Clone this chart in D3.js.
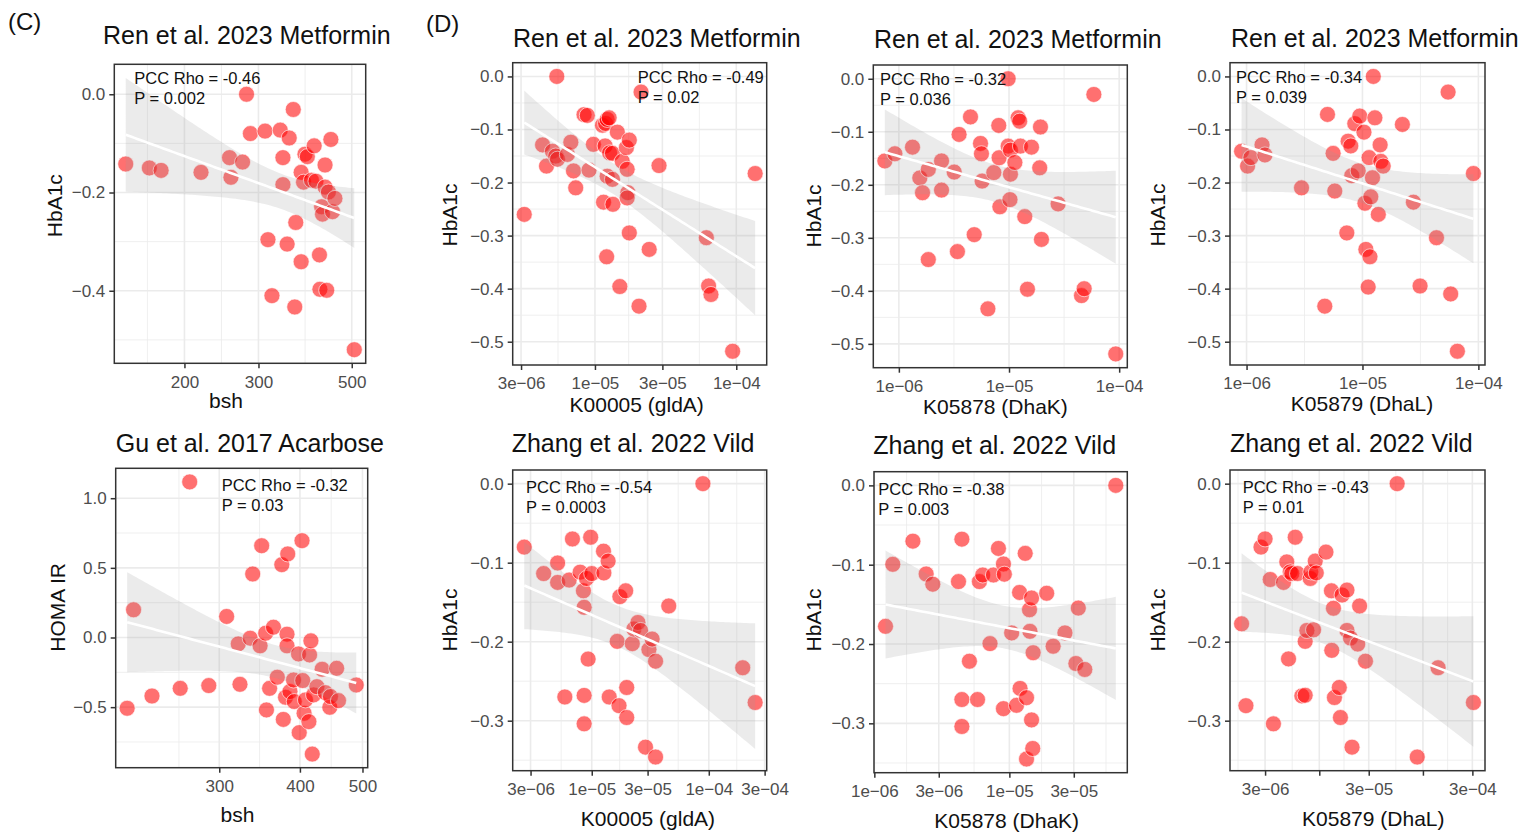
<!DOCTYPE html>
<html>
<head>
<meta charset="utf-8">
<script src="https://cdn.jsdelivr.net/npm/d3@7"></script>
<style>
  body { margin: 0; background: #fff; }
  svg { font-family: "Liberation Sans", Arial, Helvetica, sans-serif; }
</style>
</head>
<body>
<svg id="fig" width="1524" height="832"></svg>
<script>
// ---- data ----
// (C) top: Ren et al. 2023 Metformin, bsh vs HbA1c
const renBshX = [145,165,176,219,256,258,275,281,287,311,316,323,338,343,343,351,355,363,366,368,379,379,384,387,392,401,407,411,419,420,424,426,432,432,436,440,446,450,456,507];
const renBshY = [-0.142,-0.150,-0.155,-0.159,-0.129,-0.169,-0.138,0.0,-0.080,-0.075,-0.296,-0.410,-0.073,-0.129,-0.184,-0.305,-0.089,-0.031,-0.433,-0.261,-0.341,-0.159,-0.179,-0.122,-0.127,-0.175,-0.105,-0.177,-0.327,-0.397,-0.229,-0.244,-0.144,-0.189,-0.399,-0.199,-0.092,-0.239,-0.212,-0.520];

// (C) bottom: Gu et al. 2017 Acarbose, bsh vs HOMA IR
const guBshX = [216,221,236,261,270,289,308,321,323,335,338,347,349,354,355,359,364,369,375,377,380,382,382,383,386,391,392,398,399,403,404,406,408,413,414,416,418,420,425,433,438,445,446,456,459,489];
const guBshY = [-0.508,0.199,-0.420,-0.365,1.117,-0.345,0.151,-0.046,-0.336,-0.005,0.456,-0.060,0.659,0.031,-0.520,-0.365,0.074,-0.285,0.523,-0.588,-0.429,0.024,-0.060,0.600,-0.388,-0.305,-0.460,-0.118,-0.683,0.695,-0.309,-0.544,-0.448,-0.604,-0.125,-0.024,-0.837,-0.412,-0.353,-0.228,-0.396,-0.501,-0.424,-0.221,-0.453,-0.341];

// (D) Ren et al. 2023 Metformin
const renGldaX = [3.16e-6,5.37e-6,4.26e-6,4.54e-6,5.00e-6,5.28e-6,5.43e-6,6.38e-6,6.75e-6,7.05e-6,7.31e-6,8.37e-6,8.83e-6,9.08e-6,9.75e-6,1.13e-5,1.15e-5,1.18e-5,1.19e-5,1.21e-5,1.22e-5,1.22e-5,1.26e-5,1.27e-5,1.33e-5,1.34e-5,1.33e-5,1.44e-5,1.50e-5,1.56e-5,1.67e-5,1.69e-5,1.75e-5,1.71e-5,1.69e-5,1.75e-5,2.05e-5,2.12e-5,2.42e-5,2.84e-5,6.14e-5,6.37e-5,6.62e-5,9.42e-5,1.36e-4];
const renGldaY = [-0.260,0.0,-0.129,-0.169,-0.141,-0.150,-0.156,-0.147,-0.124,-0.178,-0.210,-0.072,-0.0735,-0.1765,-0.128,-0.092,-0.237,-0.131,-0.0886,-0.340,-0.188,-0.081,-0.078,-0.144,-0.145,-0.241,-0.194,-0.105,-0.396,-0.160,-0.134,-0.175,-0.120,-0.219,-0.229,-0.295,-0.433,-0.0295,-0.326,-0.168,-0.304,-0.395,-0.411,-0.518,-0.183];

const renDhakX = [7.46e-7,9.20e-7,1.33e-6,1.55e-6,1.64e-6,1.85e-6,1.85e-6,2.44e-6,2.44e-6,3.18e-6,3.40e-6,3.52e-6,4.47e-6,4.83e-6,5.51e-6,5.62e-6,5.70e-6,6.43e-6,7.28e-6,8.07e-6,8.13e-6,8.26e-6,9.82e-6,9.82e-6,1.02e-5,1.03e-5,1.03e-5,1.13e-5,1.21e-5,1.25e-5,1.27e-5,1.39e-5,1.47e-5,1.60e-5,1.90e-5,1.93e-5,1.97e-5,2.79e-5,4.55e-5,4.81e-5,5.89e-5,9.31e-5];
const renDhakY = [-0.155,-0.1415,-0.129,-0.187,-0.215,-0.171,-0.341,-0.155,-0.210,-0.176,-0.326,-0.105,-0.072,-0.294,-0.122,-0.1415,-0.193,-0.434,-0.177,-0.088,-0.149,-0.2415,0.0,-0.127,-0.228,-0.1346,-0.180,-0.158,-0.0736,-0.080,-0.127,-0.260,-0.397,-0.129,-0.168,-0.091,-0.303,-0.236,-0.409,-0.396,-0.0296,-0.519];

const renDhalX = [9.06e-7,1.02e-6,1.09e-6,1.36e-6,1.44e-6,2.98e-6,4.73e-6,4.99e-6,5.58e-6,5.77e-6,7.33e-6,7.52e-6,7.93e-6,8.09e-6,8.59e-6,9.18e-6,9.48e-6,1.03e-5,1.05e-5,1.07e-5,1.12e-5,1.14e-5,1.16e-5,1.18e-5,1.22e-5,1.24e-5,1.28e-5,1.37e-5,1.42e-5,1.44e-5,1.51e-5,2.21e-5,2.75e-5,3.14e-5,4.35e-5,5.48e-5,5.77e-5,6.59e-5,9.06e-5];
const renDhalY = [-0.141,-0.169,-0.153,-0.129,-0.148,-0.210,-0.433,-0.0716,-0.145,-0.216,-0.295,-0.122,-0.131,-0.187,-0.089,-0.178,-0.0747,-0.105,-0.239,-0.326,-0.397,-0.153,-0.340,-0.227,-0.191,0.0,-0.078,-0.260,-0.129,-0.160,-0.169,-0.0905,-0.237,-0.395,-0.304,-0.0295,-0.410,-0.518,-0.183];

// (D) Zhang et al. 2022 Vild
const zhGldaX = [2.65e-6,3.88e-6,5.11e-6,5.11e-6,5.89e-6,6.41e-6,6.84e-6,7.96e-6,8.49e-6,8.61e-6,8.61e-6,8.61e-6,9.02e-6,9.31e-6,9.79e-6,1.00e-5,1.26e-5,1.27e-5,1.38e-5,1.41e-5,1.65e-5,1.71e-5,1.74e-5,1.95e-5,1.99e-5,1.99e-5,2.22e-5,2.29e-5,2.48e-5,2.61e-5,2.88e-5,3.08e-5,3.28e-5,3.51e-5,3.51e-5,4.55e-5,8.91e-5,1.95e-4,2.49e-4];
const zhGldaY = [-0.0803,-0.1138,-0.1004,-0.125,-0.270,-0.122,-0.070,-0.112,-0.1356,-0.268,-0.304,-0.1565,-0.120,-0.222,-0.0678,-0.1138,-0.0854,-0.113,-0.098,-0.270,-0.1996,-0.281,-0.143,-0.1356,-0.258,-0.296,-0.2025,-0.184,-0.1757,-0.1858,-0.3335,-0.210,-0.1967,-0.346,-0.2247,-0.1548,0.0,-0.233,-0.277];

const zhDhakX = [1.21e-6,1.37e-6,1.93e-6,2.42e-6,2.71e-6,4.20e-6,4.45e-6,4.45e-6,4.45e-6,5.06e-6,5.81e-6,6.00e-6,6.35e-6,7.19e-6,7.62e-6,8.30e-6,9.04e-6,9.04e-6,9.18e-6,1.04e-5,1.13e-5,1.19e-5,1.20e-5,1.31e-5,1.34e-5,1.34e-5,1.41e-5,1.42e-5,1.46e-5,1.46e-5,1.49e-5,1.50e-5,1.89e-5,2.11e-5,2.58e-5,3.11e-5,3.24e-5,3.62e-5,6.14e-5];
const zhDhakY = [-0.1777,-0.0995,-0.0703,-0.1117,-0.1246,-0.1213,-0.0678,-0.270,-0.304,-0.2217,-0.270,-0.1213,-0.113,-0.1995,-0.113,-0.0795,-0.2815,-0.0991,-0.112,-0.186,-0.2773,-0.135,-0.256,-0.0857,-0.345,-0.2677,-0.1568,-0.184,-0.142,-0.2957,-0.3317,-0.211,-0.136,-0.2028,-0.186,-0.2246,-0.1547,-0.2321,0.0];

const zhDhalX = [1.78e-6,1.96e-6,2.74e-6,3.00e-6,3.36e-6,3.61e-6,4.52e-6,4.86e-6,5.05e-6,5.24e-6,5.43e-6,5.86e-6,6.17e-6,6.79e-6,7.31e-6,7.31e-6,7.59e-6,8.18e-6,8.30e-6,8.81e-6,9.14e-6,9.35e-6,1.16e-5,1.31e-5,1.32e-5,1.37e-5,1.40e-5,1.56e-5,1.60e-5,1.66e-5,1.85e-5,1.85e-5,2.00e-5,2.07e-5,2.35e-5,2.45e-5,2.79e-5,5.64e-5,8.81e-5,1.40e-4,3.07e-4];
const zhDhalY = [-0.1774,-0.281,-0.0803,-0.0699,-0.1213,-0.304,-0.125,-0.099,-0.2218,-0.1117,-0.1138,-0.0678,-0.1138,-0.2686,-0.2678,-0.1996,-0.1858,-0.120,-0.1117,-0.185,-0.098,-0.113,-0.0866,-0.1356,-0.211,-0.1577,-0.2707,-0.258,-0.296,-0.141,-0.1347,-0.1858,-0.1954,-0.3335,-0.203,-0.1548,-0.2247,0.0,-0.346,-0.233,-0.277];

// tick breaks and labels
const ticksBsh1 = [200, 300, 500];
const ticksBsh2 = [300, 400, 500];
const ticksHba6 = [0, -0.1, -0.2, -0.3, -0.4, -0.5];
const ticksHba3 = [0, -0.2, -0.4];
const ticksHba4 = [0, -0.1, -0.2, -0.3];
const ticksHoma = [-0.5, 0, 0.5, 1.0];

const titles = ["Ren et al. 2023 Metformin", "Gu et al. 2017 Acarbose", "Zhang et al. 2022 Vild"];
const stats = [
  ["-0.46", "0.002"], ["-0.49", "0.02"], ["-0.32", "0.036"], ["-0.34", "0.039"],
  ["-0.32", "0.03"], ["-0.54", "0.0003"], ["-0.38", "0.003"], ["-0.43", "0.01"]
];

// ---- panel layout ----
const panels = [
  { x: renBshX, y: renBshY, box: [114.3, 365.7, 64.3, 363.3], title: titles[0], tpos: [103, 44],
    xb: ticksBsh1, xl: ["200", "300", "500"], yb: ticksHba3, xt: "bsh", yt: "HbA1c", st: stats[0],
    ann: [134.3, 84], xtp: [226, 407.5], ytp: [61.7, 205.7] },
  { x: renGldaX, y: renGldaY, box: [512.7, 766.7, 62.7, 365], title: titles[0], tpos: [513, 46.7],
    xb: [3e-6, 1e-5, 3e-5, 1e-4], xl: ["3e−06", "1e−05", "3e−05", "1e−04"], yb: ticksHba6, xt: "K00005 (gldA)", yt: "HbA1c", st: stats[1],
    ann: [637.7, 82.7], xtp: [636.7, 411.6], ytp: [456.7, 215] },
  { x: renDhakX, y: renDhakY, box: [873.3, 1127.3, 65, 367.7], title: titles[0], tpos: [874, 48.3],
    xb: [1e-6, 1e-5, 1e-4], xl: ["1e−06", "1e−05", "1e−04"], yb: ticksHba6, xt: "K05878 (DhaK)", yt: "HbA1c", st: stats[2],
    ann: [880, 85], xtp: [995.5, 414.3], ytp: [820.7, 216] },
  { x: renDhalX, y: renDhalY, box: [1230, 1485, 62.7, 365], title: titles[0], tpos: [1231, 46.7],
    xb: [1e-6, 1e-5, 1e-4], xl: ["1e−06", "1e−05", "1e−04"], yb: ticksHba6, xt: "K05879 (DhaL)", yt: "HbA1c", st: stats[3],
    ann: [1236, 82.7], xtp: [1362, 411], ytp: [1165, 215] },
  { x: guBshX, y: guBshY, box: [115.7, 367.7, 468.3, 767.7], title: titles[1], tpos: [115.7, 452.3],
    xb: ticksBsh2, xl: ["300", "400", "500"], yb: ticksHoma, xt: "bsh", yt: "HOMA IR", st: stats[4],
    ann: [221.7, 490.7], xtp: [237.5, 821.7], ytp: [65, 607.3] },
  { x: zhGldaX, y: zhGldaY, box: [512.7, 766.7, 470, 770.7], title: titles[2], tpos: [511.7, 452.3],
    xb: [3e-6, 1e-5, 3e-5, 1e-4, 3e-4], xl: ["3e−06", "1e−05", "3e−05", "1e−04", "3e−04"], yb: ticksHba4, xt: "K00005 (gldA)", yt: "HbA1c", st: stats[5],
    ann: [526, 492.7], xtp: [648, 826], ytp: [456.7, 620] },
  { x: zhDhakX, y: zhDhakY, box: [874, 1127.3, 471.7, 772.7], title: titles[2], tpos: [873.3, 454.3],
    xb: [1e-6, 3e-6, 1e-5, 3e-5], xl: ["1e−06", "3e−06", "1e−05", "3e−05"], yb: ticksHba4, xt: "K05878 (DhaK)", yt: "HbA1c", st: stats[6],
    ann: [878.3, 495], xtp: [1006.7, 827.6], ytp: [820.7, 620] },
  { x: zhDhalX, y: zhDhalY, box: [1230, 1485, 470, 770.7], title: titles[2], tpos: [1230, 451.7],
    xb: [3e-6, 1e-5, 3e-5, 1e-4, 3e-4], xl: ["3e−06", "", "3e−05", "", "3e−04"], yb: ticksHba4, xt: "K05879 (DhaL)", yt: "HbA1c", st: stats[7],
    ann: [1242.7, 492.7], xtp: [1373.3, 826], ytp: [1165, 620] }
];

const svg = d3.select("#fig");

// panel tags
svg.append("text").attr("x", 8).attr("y", 30).attr("font-size", 24).attr("fill", "#111").text("(C)");
svg.append("text").attr("x", 426).attr("y", 31.5).attr("font-size", 24).attr("fill", "#111").text("(D)");

// lm fit + 95% band on log10(x), like geom_smooth(method = "lm")
const lmBand = (lx, ys) => {
  const n = lx.length, mx = d3.mean(lx), my = d3.mean(ys);
  let sxx = 0, sxy = 0;
  lx.forEach((v, i) => { sxx += (v - mx) ** 2; sxy += (v - mx) * (ys[i] - my); });
  const b = sxy / sxx, a = my - b * mx;
  let sse = 0;
  lx.forEach((v, i) => { sse += (ys[i] - a - b * v) ** 2; });
  const s = Math.sqrt(sse / (n - 2)), t = 1.96 + 2.4 / (n - 2);
  const [lo, hi] = d3.extent(lx);
  return d3.range(80).map(i => {
    const v = lo + (hi - lo) * i / 79, fit = a + b * v;
    const se = s * Math.sqrt(1 / n + (v - mx) ** 2 / sxx);
    return { v, fit, lo: fit - t * se, hi: fit + t * se };
  });
};

// ggplot-style minor breaks: midpoints between majors, extended by first step
const minorBreaks = (b, lim) => {
  let bb = b.slice().sort((p, q) => p - q);
  const bd = bb[1] - bb[0];
  if (lim[0] < bb[0]) bb.unshift(bb[0] - bd);
  if (lim[1] > bb[bb.length - 1]) bb.push(bb[bb.length - 1] + bd);
  const out = [];
  for (let i = 0; i < bb.length - 1; i++) out.push((bb[i] + bb[i + 1]) / 2);
  return out.filter(m => m > lim[0] && m < lim[1]);
};

const yFmt = v => (v < 0 ? "−" : "") + d3.format(".1f")(Math.abs(v));

panels.forEach(p => {
  const [L, R, T, B] = p.box;
  const lx = p.x.map(Math.log10);
  const band = lmBand(lx, p.y);

  // limits with 5% expansion (x on log scale, y includes the band)
  const [xa, xb] = d3.extent(lx);
  const xr = xb - xa;
  const xLim = [xa - 0.05 * xr, xb + 0.05 * xr];
  const ya = Math.min(d3.min(p.y), d3.min(band, d => d.lo));
  const yb2 = Math.max(d3.max(p.y), d3.max(band, d => d.hi));
  const yr = yb2 - ya;
  const yLim = [ya - 0.05 * yr, yb2 + 0.05 * yr];

  const xScale = d3.scaleLog().domain(xLim.map(v => Math.pow(10, v))).range([L, R]);
  const yScale = d3.scaleLinear().domain(yLim).range([B, T]);

  const g = svg.append("g");

  // grid
  const xMinor = minorBreaks(p.xb.map(Math.log10), xLim).map(v => Math.pow(10, v));
  const yMinor = minorBreaks(p.yb, yLim);
  g.selectAll(".xmin").data(xMinor).enter().append("line")
    .attr("x1", d => xScale(d)).attr("x2", d => xScale(d)).attr("y1", T).attr("y2", B)
    .attr("stroke", "#ebebeb").attr("stroke-width", 0.8);
  g.selectAll(".ymin").data(yMinor).enter().append("line")
    .attr("y1", d => yScale(d)).attr("y2", d => yScale(d)).attr("x1", L).attr("x2", R)
    .attr("stroke", "#ebebeb").attr("stroke-width", 0.8);
  g.selectAll(".xmaj").data(p.xb).enter().append("line")
    .attr("x1", d => xScale(d)).attr("x2", d => xScale(d)).attr("y1", T).attr("y2", B)
    .attr("stroke", "#ebebeb").attr("stroke-width", 1.6);
  g.selectAll(".ymaj").data(p.yb).enter().append("line")
    .attr("y1", d => yScale(d)).attr("y2", d => yScale(d)).attr("x1", L).attr("x2", R)
    .attr("stroke", "#ebebeb").attr("stroke-width", 1.6);

  // points
  g.selectAll("circle").data(p.x.map((v, i) => [v, p.y[i]])).enter().append("circle")
    .attr("cx", d => xScale(d[0])).attr("cy", d => yScale(d[1])).attr("r", 8)
    .attr("fill", "#ff0000").attr("fill-opacity", 0.56)
    .attr("stroke", "#ffffff").attr("stroke-opacity", 0.8).attr("stroke-width", 0.8);

  // smooth band and line
  const xv = d => xScale(Math.pow(10, d.v));
  g.append("path").datum(band)
    .attr("d", d3.area().x(xv).y0(d => yScale(d.lo)).y1(d => yScale(d.hi)))
    .attr("fill", "#999999").attr("fill-opacity", 0.2);
  g.append("path").datum(band)
    .attr("d", d3.line().x(xv).y(d => yScale(d.fit)))
    .attr("fill", "none").attr("stroke", "#ffffff").attr("stroke-width", 2.6);

  // border
  g.append("rect").attr("x", L).attr("y", T).attr("width", R - L).attr("height", B - T)
    .attr("fill", "none").attr("stroke", "#333333").attr("stroke-width", 1.5);

  // axes
  const xAxis = g.append("g").attr("transform", `translate(0,${B})`)
    .call(d3.axisBottom(xScale).tickValues(p.xb).tickFormat((d, i) => p.xl[i]).tickSize(5).tickPadding(4));
  const yAxis = g.append("g").attr("transform", `translate(${L},0)`)
    .call(d3.axisLeft(yScale).tickValues(p.yb).tickFormat(yFmt).tickSize(5).tickPadding(4));
  [xAxis, yAxis].forEach(ax => {
    ax.select(".domain").remove();
    ax.selectAll(".tick line").attr("stroke", "#333333").attr("stroke-width", 1.5);
    ax.selectAll(".tick text").attr("fill", "#4d4d4d").attr("font-size", 17)
      .attr("font-family", "'Liberation Sans', Arial, sans-serif");
  });
  xAxis.selectAll(".tick text").attr("dy", "0.9em");

  // titles
  g.append("text").attr("x", p.tpos[0]).attr("y", p.tpos[1]).attr("font-size", 25)
    .attr("fill", "#111").text(p.title);
  g.append("text").attr("x", p.xtp[0]).attr("y", p.xtp[1]).attr("text-anchor", "middle")
    .attr("font-size", 21).attr("fill", "#111").text(p.xt);
  g.append("text").attr("transform", `translate(${p.ytp[0]},${p.ytp[1]}) rotate(-90)`)
    .attr("text-anchor", "middle").attr("font-size", 21).attr("fill", "#111").text(p.yt);

  // annotation
  g.append("text").attr("x", p.ann[0]).attr("y", p.ann[1]).attr("font-size", 16.5)
    .attr("fill", "#111").text(`PCC Rho = ${p.st[0]}`);
  g.append("text").attr("x", p.ann[0]).attr("y", p.ann[1] + 20).attr("font-size", 16.5)
    .attr("fill", "#111").text(`P = ${p.st[1]}`);
});
</script>
</body>
</html>
